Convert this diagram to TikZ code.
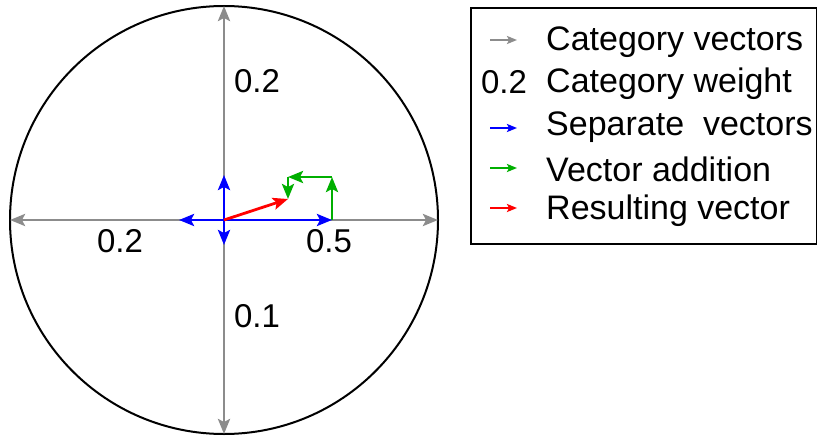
\documentclass[tikz,border=0pt]{standalone}
\usepackage{fontspec}
\setmainfont{Liberation Sans}
\usetikzlibrary{arrows.meta}
\definecolor{cgray}{RGB}{140,140,140}
\definecolor{cgreen}{RGB}{0,175,0}
\begin{document}
\begin{tikzpicture}[x=1pt,y=-1pt,
  vec/.style={line width=2.8pt,-{Stealth[length=15pt,width=12pt,inset=3pt]}},
  catvec/.style={vec,draw=cgray},
  sepvec/.style={vec,draw=blue},
  addvec/.style={vec,draw=cgreen},
  resvec/.style={vec,draw=red},
  legvec/.style={line width=2pt,-{Stealth[length=10pt,width=8pt,inset=2pt]}},
  lbl/.style={font=\fontsize{33}{38}\selectfont,inner sep=0pt},
  legtxt/.style={font=\fontsize{34}{40}\selectfont,inner sep=0pt,anchor=west}]
\useasboundingbox (0,0) rectangle (817,436);
% circle
\coordinate (c) at (224,220);
\draw[line width=2pt] (c) circle[radius=214];
\coordinate (top) at (224,6);
\coordinate (bot) at (224,434);
\coordinate (lft) at (10,220);
\coordinate (rgt) at (438,220);
\draw[catvec] (c) -- (top);
\draw[catvec] (c) -- (bot);
\draw[catvec] (c) -- (lft);
\draw[catvec] (c) -- (rgt);
% separate vectors
\coordinate (bu) at (224,175);
\coordinate (bd) at (224,245);
\coordinate (bl) at (179,220);
\coordinate (br) at (332,220);
\coordinate (g1) at (332,177);
\coordinate (g2) at (288,177);
\coordinate (g3) at (288,199);
\draw[addvec] (br) -- (g1);
\draw[addvec] (g1) -- (g2);
\draw[addvec] (g2) -- (g3);
\draw[sepvec] (c) -- (bu);
\draw[sepvec] (c) -- (bd);
\draw[sepvec] (c) -- (bl);
\draw[sepvec] (c) -- (br);
\draw[resvec] (c) -- (g3);
% labels
\node[lbl] (ltop) at (257,81) {0.2};
\node[lbl] (llft) at (120,241) {0.2};
\node[lbl] (lrgt) at (329,241) {0.5};
\node[lbl] (lbot) at (257,316) {0.1};
% legend
\node[draw,line width=2pt,minimum width=346,minimum height=236,anchor=north west,inner sep=0pt] (leg) at (470,7) {};
\coordinate (a1s) at (490,40); \coordinate (a1e) at (517,40);
\coordinate (a3s) at (490,128); \coordinate (a3e) at (517,128);
\coordinate (a4s) at (490,168); \coordinate (a4e) at (517,168);
\coordinate (a5s) at (490,208); \coordinate (a5e) at (517,208);
\draw[legvec,draw=cgray] (a1s) -- (a1e);
\draw[legvec,draw=blue] (a3s) -- (a3e);
\draw[legvec,draw=cgreen] (a4s) -- (a4e);
\draw[legvec,draw=red] (a5s) -- (a5e);
\node[lbl] (l2) at (504,82) {0.2};
\node[legtxt] (t1) at (546,42) {Category vectors};
\node[legtxt] (t2) at (546,84) {Category weight};
\node[legtxt] (t3) at (546,127) {Separate\ \ vectors};
\node[legtxt] (t4) at (546,169) {Vector addition};
\node[legtxt] (t5) at (546,211) {Resulting vector};
\end{tikzpicture}
\end{document}
